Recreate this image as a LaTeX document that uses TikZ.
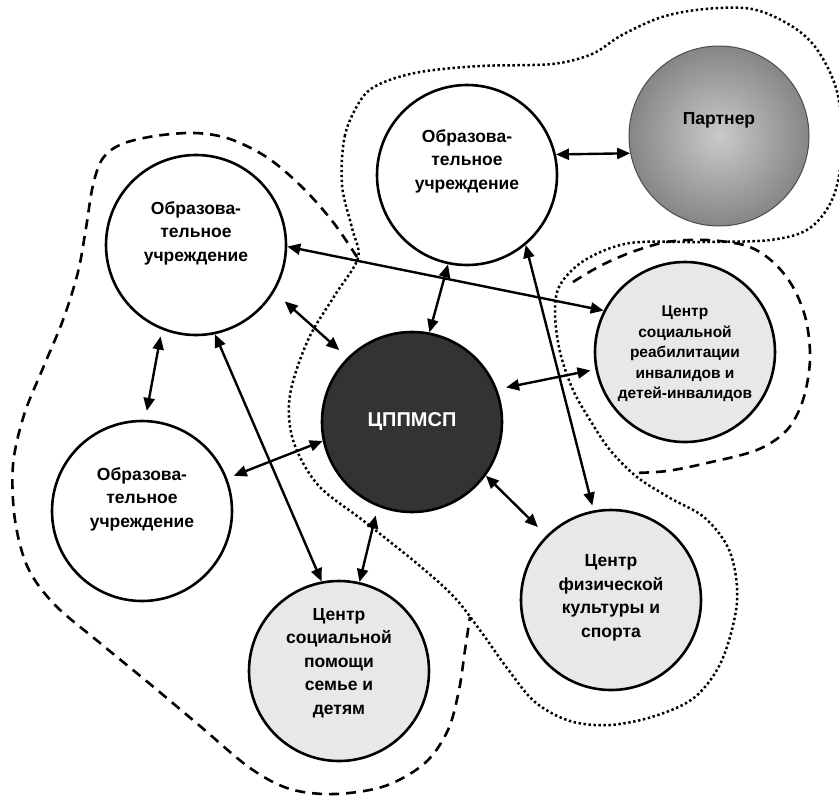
\documentclass[tikz,border=0pt]{standalone}
\usepackage{fontspec}
\setmainfont{Liberation Sans}
\usepackage{tikz}
\usetikzlibrary{arrows.meta}
\definecolor{lightfill}{HTML}{E8E8E8}
\definecolor{darkfill}{HTML}{333333}
\definecolor{balllight}{HTML}{CACACA}
\definecolor{ballmid}{HTML}{868686}
\definecolor{balldark}{HTML}{424242}
\pgfdeclareradialshading{partnerball}{\pgfpoint{0bp}{0bp}}{color(0bp)=(balllight); color(25bp)=(ballmid); color(50bp)=(balldark)}
\tikzset{circ/.style={circle,draw,line width=2.6pt,minimum size=180pt,inner sep=0pt},
  edu/.style={circ,fill=white},
  org/.style={circ,fill=lightfill},
  txt/.style={font=\fontsize{17.5}{23.5}\selectfont\bfseries,align=center},
  smalltxt/.style={font=\fontsize{15.5}{20.5}\selectfont\bfseries,align=center},
  link/.style={<->,line width=2.4pt},
  dashline/.style={line width=2.6pt,dash pattern=on 10pt off 7pt},
  dotline/.style={line width=2.5pt,dash pattern=on 2.4pt off 2.6pt}}

\begin{document}
\begin{tikzpicture}[x=1pt,y=-1pt,>={Triangle[length=13pt,width=11pt]}]
        \useasboundingbox (0,0) rectangle (839,796);

        \draw[dotline] plot[smooth cycle,tension=0.55] coordinates {(362,98) (345,135) (342,185) (352,228) (358,258) (335,295) (308,340) (290,395) (293,440) (318,485) (365,522) (420,566) (455,598) (482,633) (507,668) (535,702) (570,721) (610,725) (655,716) (695,697) (722,660) (737,602) (730,552) (705,518) (670,498) (637,477) (610,450) (590,420) (573,390) (560,352) (555,313) (560,285) (585,260) (630,243) (700,242) (770,240) (810,228) (834,195) (843,140) (836,88) (816,48) (790,25) (752,9) (705,9) (662,17) (622,35) (592,54) (552,64) (480,66) (420,72) (382,83)};
        \draw[dashline] plot[smooth,tension=0.55] coordinates {(357,257) (333,222) (303,188) (268,158) (230,139) (195,133) (155,136) (122,144) (103,158) (93,185) (86,228) (78,272) (63,320) (43,368) (24,415) (13,465) (15,520) (28,568) (55,605) (100,643) (150,684) (200,726) (250,768) (290,789) (335,794) (385,786) (425,763) (448,730) (459,690) (465,650) (470,617)};
        \draw[dashline] plot[smooth,tension=0.55] coordinates {(573,282) (600,266) (632,252) (667,242) (707,240) (747,246) (773,262) (793,287) (806,320) (810,360) (803,400) (787,430) (757,450) (707,463) (667,471) (633,473)};

        \node[edu,label={[txt,yshift=12pt]center:Образова-\\тельное\\учреждение}] (edu1) at (196,245) {};
        \node[edu,label={[txt,yshift=14pt]center:Образова-\\тельное\\учреждение}] (edu2) at (467,175) {};
        \node[edu,label={[txt,yshift=12pt]center:Образова-\\тельное\\учреждение}] (edu3) at (142,511) {};
        \node[circ,draw=black!70,line width=1pt,shading=partnerball,label={[txt,yshift=16pt]center:Партнер}] (partner) at (719,136) {};
        \node[circ,fill=darkfill,label={[txt,font=\fontsize{20}{24}\selectfont\bfseries,text=white]center:ЦППМСП}] (cppms) at (412,422) {};
        \node[org,label={[smalltxt,yshift=-2pt]center:Центр\\социальной\\реабилитации\\инвалидов и\\детей-инвалидов}] (rehab) at (685,352) {};
        \node[org,label={[txt,yshift=8pt]center:Центр\\социальной\\помощи\\семье и\\детям}] (family) at (339,671) {};
        \node[org,label={[txt,yshift=2pt]center:Центр\\физической\\культуры и\\спорта}] (sport) at (611,600) {};

        \draw[link] (edu2.13) -- (partner.191);
        \draw[link] (edu1.-1) -- (rehab.153);
        \draw[link,shorten <=14pt,shorten >=11pt] (edu1.-31) -- (cppms.135);
        \draw[link,shorten <=7pt,shorten >=9pt] (edu1.-112) -- (edu3.88);
        \draw[link] (edu1.-78) -- (family.101);
        \draw[link,shorten <=7pt] (edu3.21) -- (cppms.192);
        \draw[link,shorten >=9pt] (family.77) -- (cppms.-112);
        \draw[link] (edu2.-102) -- (cppms.79);
        \draw[link,shorten >=5pt] (edu2.-50) -- (sport.101);
        \draw[link,shorten <=9pt,shorten >=5pt] (cppms.21) -- (rehab.191);
        \draw[link,shorten >=12pt] (cppms.-36) -- (sport.135);
    \end{tikzpicture}
\end{document}
